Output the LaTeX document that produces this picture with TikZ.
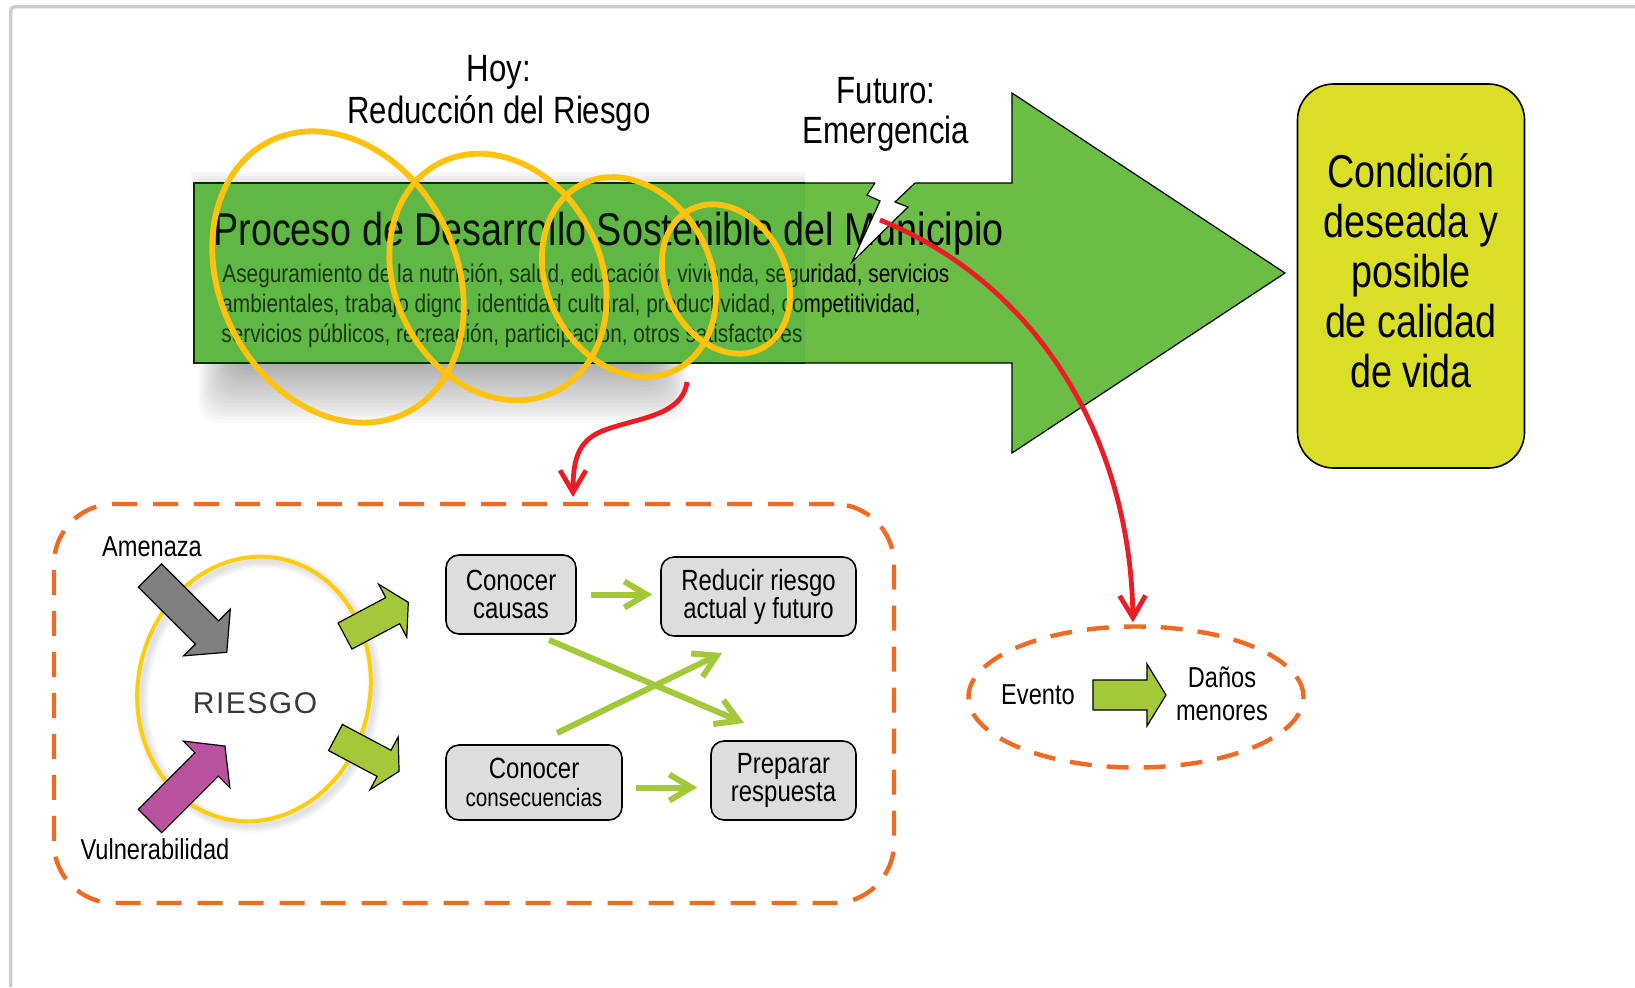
\documentclass[tikz,border=0pt]{standalone}
\usepackage{fontspec}
\setmainfont{Liberation Sans}[FakeStretch=0.82]
\newfontfamily\widefont{Liberation Sans}[LetterSpace=5]
\usetikzlibrary{arrows.meta,calc,shapes.geometric}

\definecolor{framegray}{HTML}{CCCCCC}
\definecolor{processgreen}{HTML}{6BBD45}
\definecolor{panelgreen}{HTML}{60B844}
\definecolor{ringgold}{HTML}{FFC20E}
\definecolor{goalyellow}{HTML}{D9DF26}
\definecolor{dashorange}{HTML}{F26A21}
\definecolor{linkred}{HTML}{ED1C24}
\definecolor{limegreen}{HTML}{A3C93A}
\definecolor{hazardgray}{HTML}{808080}
\definecolor{vulnmagenta}{HTML}{B9539F}
\definecolor{boxgray}{HTML}{DDDDDD}
\definecolor{riskink}{HTML}{3A3A3A}

% block arrow: fill, x, y, angle, body length, body half width, head length, head half width
\newcommand{\blockarrow}[8]{%
  \filldraw[fill=#1, draw=black, line width=0.6pt, line join=miter, shift={(#2,#3)}, rotate=#4]
    (0,-#6) -- (#5,-#6) -- (#5,-#8) -- ({#5+#7},0) -- (#5,#8) -- (#5,#6) -- (0,#6) -- cycle;}

\tikzset{
  ring/.style={draw=ringgold, line width=2.9pt},
  stepbox/.style={draw=black, line width=0.8pt, fill=boxgray, rounded corners=6.5pt,
    inner sep=0pt, align=center, font=\fontsize{14.6}{14}\selectfont},
  limelink/.style={draw=limegreen, line width=3pt, -{Straight Barb[length=11pt,width=13pt]}},
  redlink/.style={draw=linkred, line width=2.4pt, -{Straight Barb[length=11pt,width=13pt]}},
  plaintext/.style={inner sep=0pt, font=\fontsize{14.4}{16.5}\selectfont},
  headtext/.style={inner sep=0pt, font=\fontsize{19}{20.5}\selectfont, anchor=base},
  bodytext/.style={inner sep=0pt, font=\fontsize{12.7}{15}\selectfont, anchor=base west},
  dashline/.style={draw=dashorange, line width=2.2pt, dash pattern=on 12.5pt off 8pt},
}

\begin{document}
\begin{tikzpicture}[x=0.5pt,y=-0.5pt]
\useasboundingbox (0,0) rectangle (1635,987);

% page frame
\draw[framegray, line width=1.6pt, rounded corners=2pt] (10.7,987) -- (10.7,6.7) -- (1635,6.7);

% soft shadow around the process panel
\foreach \k in {0,...,19} {
  \fill[black, opacity=0.018, rounded corners=10pt] ({236-2*\k},350) rectangle ({650+2*\k},{362+3.2*\k});
}
\foreach \k in {1,...,5} {
  \fill[black, opacity=0.018] ({196-\k},{183-2.5*\k}) rectangle (805,190);
}

% big process arrow
\fill[processgreen] (805,183) -- (1012,183) -- (1012,93) -- (1285,273) -- (1012,453) -- (1012,363) -- (805,363) -- cycle;
\draw[black, line width=0.6pt, line join=miter] (805,183) -- (1012,183) -- (1012,93) -- (1285,273) -- (1012,453) -- (1012,363) -- (805,363);

% process panel
\fill[panelgreen] (194,183) rectangle (805,363);
\draw[black!80!green, line width=0.8pt] (805,183) -- (194,183) -- (194,363) -- (805,363);

% panel texts
\node[anchor=base west, inner sep=0pt, font=\fontsize{23}{25}\selectfont] (title) at (213,245)
  {Proceso de Desarrollo Sostenible del Municipio};
\node[bodytext] (line1) at (222,282) {Aseguramiento de la nutrición, salud, educación, vivienda, seguridad, servicios};
\node[bodytext] (line2) at (221,312) {ambientales, trabajo digno, identidad cultural, productividad, competitividad,};
\node[bodytext] (line3) at (221,342) {servicios públicos, recreación, participación, otros satisfactores};
\fill[panelgreen, opacity=0.1] (195,184) rectangle (805,255);
\fill[panelgreen, opacity=0.3] (195,255) rectangle (805,362);

% lightning bolt
\fill[white] (875,180) -- (875,183) -- (867,195) -- (880,201) -- (852,262) -- (908,207) -- (895,202) -- (915,183) -- (915,180) -- cycle;
\draw[black, line width=0.6pt, line join=miter] (875,183) -- (867,195) -- (880,201) -- (852,262) -- (908,207) -- (895,202) -- (915,183);

% headings
\node[headtext] (hoy) at (499,81) {Hoy:};
\node[headtext] (reduccion) at (499,123) {Reducción del Riesgo};
\node[headtext] (futuro) at (886,103) {Futuro:};
\node[headtext] (emergencia) at (886,143) {Emergencia};

% rings over the panel
\draw[ring, shift={(338,277)}, rotate=27] (0,0) ellipse [x radius=118, y radius=152];
\draw[ring, shift={(498,277)}, rotate=27] (0,0) ellipse [x radius=103, y radius=128];
\draw[ring, shift={(629,277)}, rotate=27] (0,0) ellipse [x radius=82, y radius=104];
\draw[ring, shift={(726,279)}, rotate=27] (0,0) ellipse [x radius=60, y radius=78];

% goal box
\node[draw=black, line width=0.8pt, fill=goalyellow, rounded corners=18pt,
  minimum width=113.5pt, minimum height=192pt, inner sep=0pt] (goal) at (1411,276) {};
\node[inner sep=0pt, align=center, font=\fontsize{23}{25}\selectfont] (goaltext) at (1411,271)
  {Condición\\deseada y\\posible\\de calidad\\de vida};

% risk management panel
\node[dashline, rounded corners=30pt, minimum width=420pt, minimum height=199.5pt, inner sep=0pt] (riskbox) at (474,703.5) {};

% RIESGO ring
\foreach \k in {1,...,5} {
  \draw[black, opacity=0.025, line width={\k*1.5pt}, shift={(258,693)}, rotate=-12] (0,0) ellipse [x radius=116, y radius=133];
}
\draw[ringgold!80!yellow, line width=2pt, shift={(254,689)}, rotate=-12] (0,0) ellipse [x radius=116, y radius=133];
\node[inner sep=0pt, text=riskink, font=\widefont\fontsize{15}{16}\selectfont] (riesgo) at (255,703) {RIESGO};

\node[plaintext] (amenaza) at (152,547) {Amenaza};
\node[plaintext] (vulnerabilidad) at (155,849) {Vulnerabilidad};

\blockarrow{hazardgray}{150}{575.5}{-45}{80.6}{16.5}{28}{33}
\blockarrow{vulnmagenta}{150}{821}{45}{80}{16.5}{26}{33}
\blockarrow{limegreen}{345}{636}{28}{54}{14.8}{17.7}{30}
\blockarrow{limegreen}{335.5}{737.5}{-28}{55}{14.8}{17}{30}

% steps
\node[stepbox, minimum width=65pt, minimum height=39.5pt] (causas) at (511,594.5) {Conocer\\causas};
\node[stepbox, minimum width=97.5pt, minimum height=39.5pt] (reducir) at (758.5,596.5) {Reducir riesgo\\actual y futuro};
\node[stepbox, minimum width=88pt, minimum height=37.5pt] (conseq) at (534,782.5)
  {Conocer\\{\fontsize{12.6}{13.5}\selectfont consecuencias}};
\node[stepbox, minimum width=72.5pt, minimum height=39.5pt] (preparar) at (783.5,780.5) {Preparar\\respuesta};

\coordinate (crossAs) at (549,640);
\coordinate (crossAe) at (744,723);
\coordinate (crossBs) at (557,733);
\coordinate (crossBe) at (722,653);
\draw[limelink, shorten <=7pt, shorten >=4pt] (causas.east) -- (causas.east -| reducir.west);
\draw[limelink, shorten <=6.5pt, shorten >=6.5pt] ($(conseq.east)+(0,5)$) -- ($(conseq.east -| preparar.west)+(0,5)$);
\draw[limelink] (crossAs) -- (crossAe);
\draw[limelink] (crossBs) -- (crossBe);

% event panel
\node[draw=dashorange, line width=2.2pt, dash pattern=on 11pt off 7.5pt, ellipse,
  minimum width=167.5pt, minimum height=70.5pt, inner sep=0pt] (event) at (1136,697) {};
\node[plaintext] (evento) at (1038,695) {Evento};
\blockarrow{limegreen}{1093}{695}{0}{54}{15}{19}{31}
\node[plaintext, align=center] (danos) at (1222,694) {Daños\\menores};

% links
\coordinate (riskstart) at (687,382);
\coordinate (risktip) at (573,497);
\draw[redlink] (riskstart) .. controls (682,418) and (632,418) .. (600,432)
  .. controls (578,442) and (573,460) .. (risktip);
\coordinate (futurestart) at (880,220);
\draw[redlink] (futurestart) .. controls (1030,280) and (1130,430) .. ($(event.north)+(-3,-2)$);
\end{tikzpicture}
\end{document}
